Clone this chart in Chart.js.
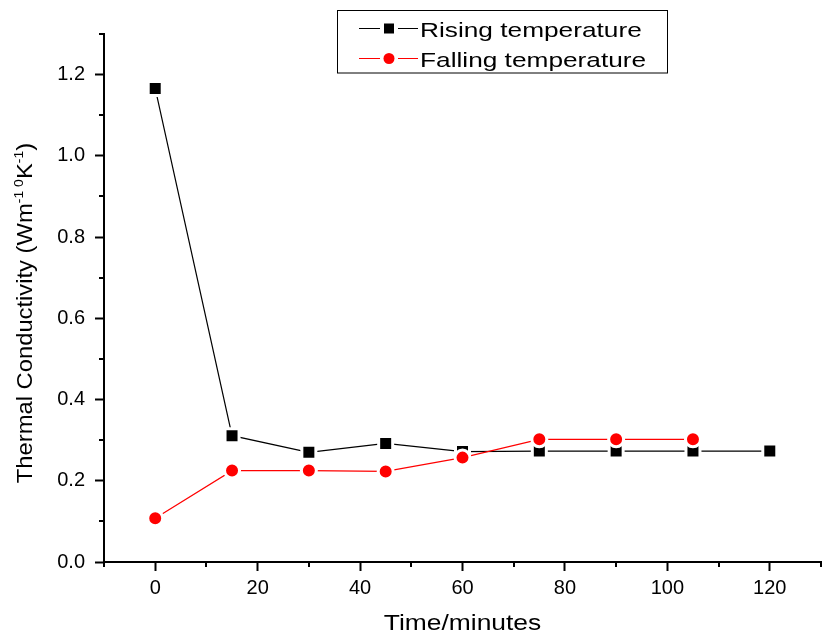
<!DOCTYPE html>
<html>
<head>
<meta charset="utf-8">
<script src="https://cdn.jsdelivr.net/npm/chart.js@4/dist/chart.umd.min.js"></script>
<style>
  html, body { margin: 0; padding: 0; background: #fff; }
  canvas { display: block; }
</style>
</head>
<body>
<canvas id="chart" width="822" height="638"></canvas>
<script>
// Measurement times (minutes) and thermal conductivity readings
const risingTimes = [0, 15, 30, 45, 60, 75, 90, 105, 120];
const rising = [1.166, 0.311, 0.270, 0.292, 0.272, 0.273, 0.273, 0.273, 0.273];
const fallingTimes = [0, 15, 30, 45, 60, 75, 90, 105];
const falling = [0.108, 0.225, 0.225, 0.223, 0.257, 0.302, 0.302, 0.302];
const seriesNames = ['Rising temperature', 'Falling temperature'];

// Axis titles; the y title is split into normal and superscript runs
const xTitle = 'Time/minutes';
const yTitleRuns = [
  ['Thermal Conductivity (Wm', false],
  ['-1', true],
  [' ', true],
  ['0', true],
  ['K', false],
  ['-1', true],
  [')', false]
];

const FONT = "'Liberation Sans', Arial, Helvetica, sans-serif";

const isMajorX = v => Math.round(v) % 20 === 0;
const isMajorY = v => Math.round(v * 10) % 2 === 0;

// Draws runs of text (normal / superscript) centred on (0,0), stretched horizontally
function drawRuns(ctx, runs, size, supSize, supRise, stretch) {
  const widths = runs.map(([t, sup]) => {
    ctx.font = `${sup ? supSize : size}px ${FONT}`;
    return ctx.measureText(t).width;
  });
  const total = widths.reduce((a, b) => a + b, 0);
  ctx.save();
  ctx.scale(stretch, 1);
  let x = -total / 2;
  runs.forEach(([t, sup], i) => {
    ctx.font = `${sup ? supSize : size}px ${FONT}`;
    ctx.fillText(t, x, sup ? -supRise : 0);
    x += widths[i];
  });
  ctx.restore();
}

// Short unlabelled ticks halfway between the labelled ones
const minorTicks = {
  id: 'minorTicks',
  afterDraw(chart) {
    const { ctx, chartArea } = chart;
    const xs = chart.scales.x, ys = chart.scales.y;
    ctx.save();
    ctx.strokeStyle = '#000';
    ctx.lineWidth = 2;
    ctx.beginPath();
    xs.ticks.forEach(t => {
      if (isMajorX(t.value)) return;
      const px = Math.round(xs.getPixelForValue(t.value));
      ctx.moveTo(px, chartArea.bottom);
      ctx.lineTo(px, chartArea.bottom + 5);
    });
    ys.ticks.forEach(t => {
      if (isMajorY(t.value)) return;
      const py = Math.round(ys.getPixelForValue(t.value));
      ctx.moveTo(chartArea.left, py);
      ctx.lineTo(chartArea.left - 5, py);
    });
    ctx.stroke();
    ctx.restore();
  }
};

// Axis titles and the boxed legend
const annotations = {
  id: 'annotations',
  afterDraw(chart) {
    const { ctx, chartArea } = chart;
    ctx.save();
    ctx.fillStyle = '#000';
    ctx.textAlign = 'left';
    ctx.textBaseline = 'alphabetic';

    // x title
    ctx.save();
    ctx.translate((chartArea.left + chartArea.right) / 2, 630);
    drawRuns(ctx, [[xTitle, false]], 22, 13, 9, 1.2);
    ctx.restore();

    // y title
    ctx.save();
    ctx.translate(32, (chartArea.top + chartArea.bottom) / 2 + 15);
    ctx.rotate(-Math.PI / 2);
    drawRuns(ctx, yTitleRuns, 22, 13, 9, 1.08);
    ctx.restore();

    // legend
    ctx.strokeStyle = '#000';
    ctx.lineWidth = 1;
    ctx.strokeRect(337.5, 10.5, 330, 62.5);
    const rows = [28.5, 58.5];
    chart.data.datasets.forEach((ds, i) => {
      const y = rows[i];
      ctx.strokeStyle = ds.borderColor;
      ctx.lineWidth = 1.2;
      ctx.beginPath();
      ctx.moveTo(359, y); ctx.lineTo(380, y);
      ctx.moveTo(398, y); ctx.lineTo(418, y);
      ctx.stroke();
      ctx.fillStyle = ds.pointBackgroundColor;
      if (ds.pointStyle === 'rect') {
        ctx.fillRect(384, y - 5, 10, 10);
      } else {
        ctx.beginPath();
        ctx.arc(389, y, 5.5, 0, Math.PI * 2);
        ctx.fill();
      }
      ctx.fillStyle = '#000';
      ctx.font = `21px ${FONT}`;
      const w = ctx.measureText(ds.label).width * 1.25;
      ctx.save();
      ctx.translate(420 + w / 2, y + 8);
      drawRuns(ctx, [[ds.label, false]], 21, 13, 9, 1.25);
      ctx.restore();
    });
    ctx.restore();
  }
};

const toPoints = (xs, ys) => xs.map((x, i) => ({ x, y: ys[i] }));

new Chart(document.getElementById('chart'), {
  type: 'line',
  data: {
    datasets: [
      {
        label: seriesNames[0],
        data: toPoints(risingTimes, rising),
        borderColor: '#000000',
        backgroundColor: '#000000',
        borderWidth: 1.2,
        pointStyle: 'rect',
        pointBackgroundColor: '#000000',
        pointBorderColor: '#ffffff',
        pointBorderWidth: 3,
        pointRadius: 9.9,
        pointHoverRadius: 9.9,
        tension: 0,
        order: 1
      },
      {
        label: seriesNames[1],
        data: toPoints(fallingTimes, falling),
        borderColor: '#ff0000',
        backgroundColor: '#ff0000',
        borderWidth: 1.2,
        pointStyle: 'circle',
        pointBackgroundColor: '#ff0000',
        pointBorderColor: '#ffffff',
        pointBorderWidth: 3,
        pointRadius: 7.5,
        pointHoverRadius: 7.5,
        tension: 0,
        order: 0
      }
    ]
  },
  options: {
    responsive: false,
    animation: false,
    devicePixelRatio: 1,
    events: [],
    layout: { autoPadding: false, padding: { top: 34, right: 1, left: 0, bottom: 0 } },
    plugins: {
      legend: { display: false },
      tooltip: { enabled: false },
      title: { display: false }
    },
    scales: {
      x: {
        type: 'linear',
        min: -10,
        max: 130,
        ticks: {
          stepSize: 10,
          autoSkip: false,
          maxRotation: 0,
          color: '#000',
          padding: 5,
          font: { family: FONT, size: 20 },
          callback: v => (isMajorX(v) ? String(Math.round(v)) : '')
        },
        grid: {
          drawOnChartArea: false,
          drawTicks: true,
          tickLength: 9,
          tickWidth: 2,
          tickColor: c => (c.tick && isMajorX(c.tick.value) ? '#000' : 'rgba(0,0,0,0)')
        },
        border: { display: true, color: '#000', width: 2 },
        afterFit: s => { s.height = 76; s.paddingLeft = 0; s.paddingRight = 0; }
      },
      y: {
        type: 'linear',
        min: 0,
        max: 1.3,
        ticks: {
          stepSize: 0.1,
          autoSkip: false,
          color: '#000',
          padding: 10,
          font: { family: FONT, size: 20 },
          callback: v => (isMajorY(v) ? (Math.round(v * 10) / 10).toFixed(1) : '')
        },
        grid: {
          drawOnChartArea: false,
          drawTicks: true,
          tickLength: 9,
          tickWidth: 2,
          tickColor: c => (c.tick && isMajorY(c.tick.value) ? '#000' : 'rgba(0,0,0,0)')
        },
        border: { display: true, color: '#000', width: 2 },
        afterFit: s => { s.width = 104; s.paddingTop = 0; s.paddingBottom = 0; }
      }
    }
  },
  plugins: [minorTicks, annotations]
});
</script>
</body>
</html>
